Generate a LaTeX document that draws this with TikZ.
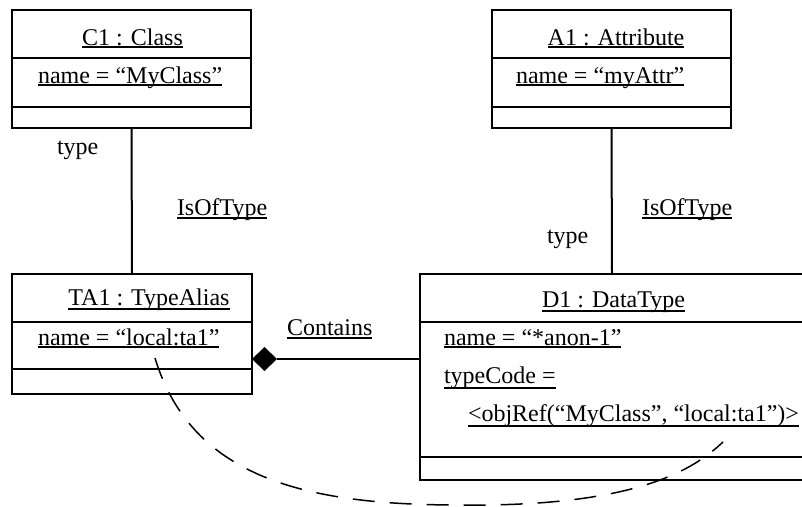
\documentclass[tikz,border=0pt]{standalone}
\usepackage{fontspec}
\setmainfont{Liberation Serif}
\usetikzlibrary{shapes.geometric}
\newcommand\myul[2][3pt]{\setbox0\hbox{#2}\rlap{\rule[-#1]{\wd0}{1.6pt}}\box0}
\tikzset{
  umlbox/.style={draw, line width=2.5pt, rectangle, inner sep=0pt, outer sep=0pt},
  sepline/.style={line width=2.5pt},
  link/.style={line width=2pt},
  txt/.style={inner sep=0pt, outer sep=0pt, anchor=base west, font=\fontsize{24}{28}\selectfont},
  ctxt/.style={txt, anchor=base},
  dep/.style={line width=1.5pt, dash pattern=on 22pt off 15pt},
}
\begin{document}
\begin{tikzpicture}[x=1pt, y=-1pt]
\clip (0,0) rectangle (802,506);
\fill[white] (0,0) rectangle (802,506);
% boxes
\node[umlbox, minimum width=239pt, minimum height=118pt] (c1) at (131.5,69) {};
\node[umlbox, minimum width=239pt, minimum height=118pt] (a1) at (611.5,69) {};
\node[umlbox, minimum width=240pt, minimum height=120pt] (ta1) at (132,334) {};
\node[umlbox, minimum width=384pt, minimum height=206pt] (d1) at (612,377) {};
% compartments
\draw[sepline] ([yshift=-48pt]c1.north west) -- ([yshift=-48pt]c1.north east);
\draw[sepline] ([yshift=-97pt]c1.north west) -- ([yshift=-97pt]c1.north east);
\draw[sepline] ([yshift=-48pt]a1.north west) -- ([yshift=-48pt]a1.north east);
\draw[sepline] ([yshift=-97pt]a1.north west) -- ([yshift=-97pt]a1.north east);
\draw[sepline] ([yshift=-48pt]ta1.north west) -- ([yshift=-48pt]ta1.north east);
\draw[sepline] ([yshift=-95pt]ta1.north west) -- ([yshift=-95pt]ta1.north east);
\draw[sepline] ([yshift=-48pt]d1.north west) -- ([yshift=-48pt]d1.north east);
\draw[sepline] ([yshift=-183pt]d1.north west) -- ([yshift=-183pt]d1.north east);
% texts
\node[ctxt] (c1t) at (132.5,45) {\myul{C1 : Class}};
\node[txt] (c1a) at (38,83) {\myul[2.5pt]{name = “MyClass”}};
\node[ctxt] (a1t) at (616,45) {\myul{A1 : Attribute}};
\node[txt] (a1a) at (516,83) {\myul[2.5pt]{name = “myAttr”}};
\node[ctxt] (ta1t) at (149,305) {\myul[5pt]{TA1 : TypeAlias}};
\node[txt] (ta1a) at (38,345) {\myul[3pt]{name = “local:ta1”}};
\node[ctxt] (d1t) at (613.5,307) {\myul[5pt]{D1 : DataType}};
\node[txt] (d1a) at (444,345) {\myul[3pt]{name = “*anon-1”}};
\node[txt] (d1b) at (444,383) {\myul[6pt]{typeCode =}};
\node[txt] (d1c) at (468,421) {\myul[6pt]{<objRef(“MyClass”, “local:ta1”)>}};
% connectors
\draw[link] (c1.south) -- (ta1.north);
\draw[link] (a1.south) -- (d1.north);
\node[diamond, fill=black, inner sep=0pt, outer sep=0pt, minimum width=25pt, minimum height=24pt] (dia) at (264.5,359) {};
\draw[link] (dia.east) -- (dia.east -| d1.west);
% labels
\node[txt] (lt1) at (57,154) {type};
\node[txt] (li1) at (177,215) {\myul[4pt]{IsOfType}};
\node[txt] (lt2) at (547,243) {type};
\node[txt] (li2) at (642,215) {\myul[4pt]{IsOfType}};
\node[txt] (lc) at (287,335) {\myul[4pt]{Contains}};
% dependency
\coordinate (ds) at (155,358);
\coordinate (dm) at (460,505);
\coordinate (de) at (723,442);
\draw[dep] (ds) .. controls (192,480) and (310,505) .. (dm) .. controls (640,507) and (695,468) .. (de);
\end{tikzpicture}
\end{document}
